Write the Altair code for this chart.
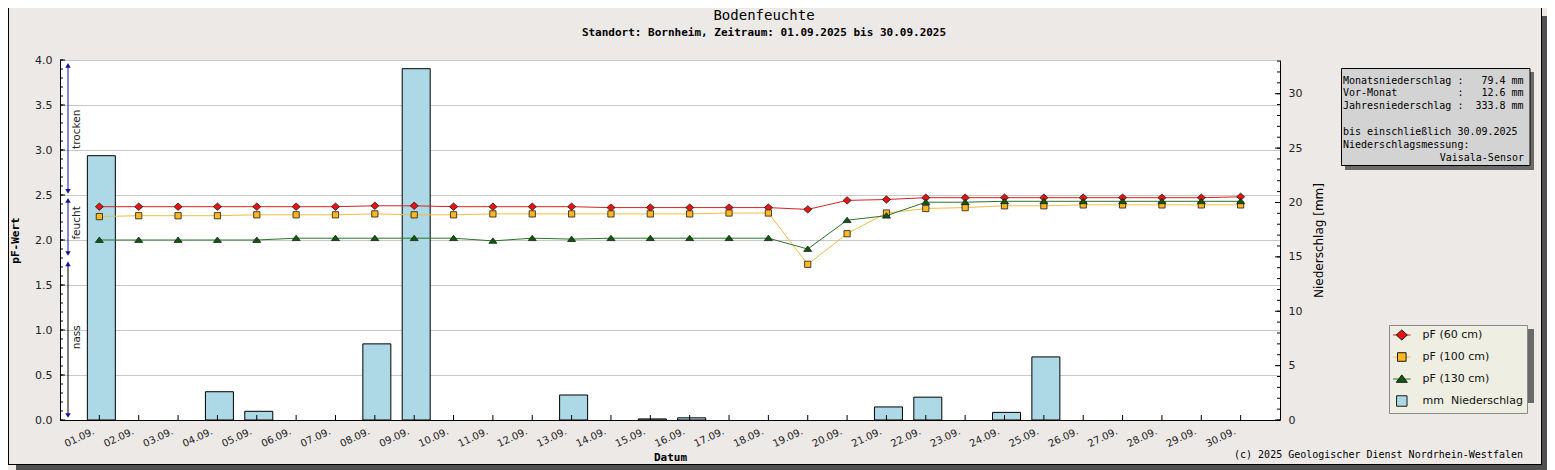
import altair as alt
import pandas as pd

# ---------------- data ----------------
DATES = ["01.09.", "02.09.", "03.09.", "04.09.", "05.09.", "06.09.", "07.09.", "08.09.",
         "09.09.", "10.09.", "11.09.", "12.09.", "13.09.", "14.09.", "15.09.", "16.09.",
         "17.09.", "18.09.", "19.09.", "20.09.", "21.09.", "22.09.", "23.09.", "24.09.",
         "25.09.", "26.09.", "27.09.", "28.09.", "29.09.", "30.09."]

PF_60 = [2.37, 2.37, 2.37, 2.37, 2.37, 2.37, 2.37, 2.38, 2.38, 2.37,
         2.37, 2.37, 2.37, 2.36, 2.36, 2.36, 2.36, 2.36, 2.34, 2.44,
         2.45, 2.47, 2.47, 2.47, 2.47, 2.47, 2.47, 2.47, 2.47, 2.48]
PF_100 = [2.26, 2.27, 2.27, 2.27, 2.28, 2.28, 2.28, 2.29, 2.28, 2.28,
          2.29, 2.29, 2.29, 2.29, 2.29, 2.29, 2.30, 2.30, 1.73, 2.07,
          2.30, 2.35, 2.36, 2.38, 2.38, 2.39, 2.39, 2.39, 2.39, 2.39]
PF_130 = [2.00, 2.00, 2.00, 2.00, 2.00, 2.02, 2.02, 2.02, 2.02, 2.02,
          1.99, 2.02, 2.01, 2.02, 2.02, 2.02, 2.02, 2.02, 1.90, 2.22,
          2.27, 2.42, 2.42, 2.43, 2.43, 2.43, 2.43, 2.43, 2.43, 2.43]
RAIN_MM = [24.3, 0, 0, 2.6, 0.8, 0, 0, 7.0, 32.3, 0,
           0, 0, 2.3, 0, 0.1, 0.2, 0, 0, 0, 0,
           1.2, 2.1, 0, 0.7, 5.8, 0, 0, 0, 0, 0]

SERIES = ["pF (60 cm)", "pF (100 cm)", "pF (130 cm)", "mm\u00a0 Niederschlag"]

ZONES = ["trocken", "feucht", "nass"]
ZONE_LOW = [2.54, 1.85, 0.05]
ZONE_HIGH = [3.94, 2.44, 1.735]
ZONE_MID = [3.23, 2.19, 0.92]

PF_MAJOR = [0.0, 0.5, 1.0, 1.5, 2.0, 2.5, 3.0, 3.5, 4.0]
PF_MINOR = [round(i / 10, 1) for i in range(41)]
MM_MAJOR = [0, 5, 10, 15, 20, 25, 30]
MM_MINOR = list(range(34))

TITLE = "Bodenfeuchte"
SUBTITLE = "Standort: Bornheim, Zeitraum: 01.09.2025 bis 30.09.2025"
COPYRIGHT = "(c) 2025 Geologischer Dienst Nordrhein-Westfalen"
INFO_TOTALS = [
    "Monatsniederschlag :   79.4 mm",
    "Vor-Monat          :   12.6 mm",
    "Jahresniederschlag :  333.8 mm",
]
INFO_NOTE = [
    "bis einschließlich 30.09.2025",
    "Niederschlagsmessung:",
]
INFO_SENSOR = "Vaisala-Sensor"


def nb(s):
    return s.replace(" ", "\u00a0")


# ---------------- tables ----------------
rows = []
for name, vals in zip(SERIES[:3], [PF_60, PF_100, PF_130]):
    for d, v in zip(DATES, vals):
        rows.append({"date": d, "series": name, "pf": v})
pf_df = pd.DataFrame(rows)
mm_df = pd.DataFrame({"date": DATES, "mm": RAIN_MM, "series": SERIES[3]})
zone_df = pd.DataFrame({"name": ZONES, "lo": ZONE_LOW, "hi": ZONE_HIGH, "mid": ZONE_MID})
one = pd.DataFrame({"k": [0]})

# ---------------- styles ----------------
MONO = "DejaVu Sans Mono"
SANS = "DejaVu Sans"
EXT = "M-1.6,-1M1.6,1"
DIAMOND = EXT + "M0,-0.92L1,0L0,0.92L-1,0Z"
SQUARE = EXT + "M-0.78,-0.78L0.78,-0.78L0.78,0.78L-0.78,0.78Z"
SQUARE_BIG = EXT + "M-0.95,-0.95L0.95,-0.95L0.95,0.95L-0.95,0.95Z"
TRIANGLE = EXT + "M0,-0.75L1,0.6L-1,0.6Z"
LINE = "M-1.6,0L1.6,0" + EXT

FILL_SCALE = alt.Scale(domain=SERIES, range=["#EE1111", "#FFB81F", "#0A5C0A", "#ADD8E6"])
SHAPE_SCALE = alt.Scale(domain=SERIES, range=[DIAMOND, SQUARE, TRIANGLE, SQUARE_BIG])
STROKE_SCALE = alt.Scale(domain=[s + "\u200b" for s in SERIES],
                         range=["#D62222", "#F3BC44", "#2A742A", "transparent"])

LEG_COMMON = dict(title=None, orient="none", legendX=1329, legendY=265, direction="vertical",
                  padding=4, symbolSize=121, symbolStrokeWidth=1, symbolOffset=2.8,
                  labelOffset=14.8, rowPadding=6, labelFont=SANS, labelFontSize=11,
                  labelLimit=300)
LEGEND_A = alt.Legend(fillColor="#EEEEE2", strokeColor="#8A8A8A", symbolType=LINE,
                      symbolFillColor="transparent", labelOpacity=0, zindex=0, **LEG_COMMON)
LEGEND_B = alt.Legend(symbolStrokeColor="#1A1A1A", labelColor="#111111", zindex=1, **LEG_COMMON)

X_AXIS = alt.Axis(title="Datum", labelAngle=335, labelAlign="right", labelBaseline="top",
                  labelPadding=6, labelOffset=-8, ticks=False, grid=False, domainColor="black",
                  labelFont=SANS, labelFontSize=10, labelColor="#222222",
                  titleFont=MONO, titleFontSize=11, titleFontWeight="bold", titleColor="black",
                  titleY=37, titleX=610, titleBaseline="middle", titleAlign="center")
X = alt.X("date:O", scale=alt.Scale(type="point", domain=DATES, padding=1), axis=X_AXIS)

PF_SCALE = alt.Scale(domain=[0, 4], nice=False, zero=True)
PF_AXIS = alt.Axis(orient="left", title="pF-Wert", values=PF_MAJOR, format=".1f", grid=True,
                   gridColor="#C8C8C8", ticks=False, domainColor="black",
                   labelFont=SANS, labelFontSize=11, labelColor="#222222", labelPadding=8,
                   titleFont=MONO, titleFontSize=11, titleFontWeight="bold", titleColor="black",
                   titleAngle=270, titleX=-45, titleY=180, titleAlign="center",
                   titleBaseline="middle")
MM_SCALE = alt.Scale(domain=[0, 33.1], nice=False, zero=True)
MM_AXIS = alt.Axis(orient="right", title="Niederschlag [mm]", values=MM_MAJOR, format="d",
                   grid=False, ticks=False, domainColor="black",
                   labelFont=SANS, labelFontSize=11, labelColor="#222222", labelPadding=8,
                   titleFont=SANS, titleFontSize=12, titleFontWeight="normal", titleColor="black",
                   titleAngle=270, titleX=38, titleY=180, titleAlign="center",
                   titleBaseline="middle")


def y_pf(field):
    return alt.Y(field, scale=PF_SCALE, axis=None)


def y_mm(field):
    return alt.Y(field, scale=MM_SCALE, axis=None)


# ---------------- frame decorations ----------------
frame_r = alt.Chart(one).mark_rule(color="black").encode(
    x=alt.value(1481.5), y=alt.value(-52), y2=alt.value(405))
frame_b = alt.Chart(one).mark_rule(color="black").encode(
    x=alt.value(-52), x2=alt.value(1482), y=alt.value(404.5))
frame_l = alt.Chart(one).mark_rule(color="black").encode(
    x=alt.value(-51.5), y=alt.value(-52), y2=alt.value(405))
shadow_r = alt.Chart(one).mark_rect(fill="#505050").encode(
    x=alt.value(1482), x2=alt.value(1487), y=alt.value(-44), y2=alt.value(410))
shadow_b = alt.Chart(one).mark_rect(fill="#505050").encode(
    x=alt.value(-44), x2=alt.value(1487), y=alt.value(405), y2=alt.value(410))

# ---------------- precipitation ----------------
bars = alt.Chart(mm_df).transform_filter("datum.mm > 0").mark_bar(
    size=28, xOffset=2, stroke="black", strokeWidth=1).encode(
    x=X,
    y=alt.Y("mm:Q", scale=MM_SCALE, axis=MM_AXIS),
    fill=alt.Fill("series:N", scale=FILL_SCALE, legend=LEGEND_B),
)
mm_minor = alt.Chart(pd.DataFrame({"v": MM_MINOR})).mark_rule(color="black").encode(
    y=y_mm("v:Q"), x=alt.value(1220), x2=alt.value(1217))
mm_major = alt.Chart(pd.DataFrame({"v": MM_MAJOR})).mark_rule(color="black").encode(
    y=y_mm("v:Q"), x=alt.value(1220), x2=alt.value(1215))

# ---------------- pF ----------------
lines = alt.Chart(pf_df).transform_calculate(sl="datum.series + '\u200b'").mark_line(
    strokeWidth=1).encode(
    x=X,
    y=alt.Y("pf:Q", scale=PF_SCALE, axis=PF_AXIS),
    stroke=alt.Stroke("sl:N", scale=STROKE_SCALE, legend=LEGEND_A),
)
points = alt.Chart(pf_df).mark_point(filled=True, size=64, opacity=1, stroke="#1A1A1A",
                                     strokeWidth=0.8).encode(
    x=X,
    y=y_pf("pf:Q"),
    fill=alt.Fill("series:N", scale=FILL_SCALE, legend=LEGEND_B),
    shape=alt.Shape("series:N", scale=SHAPE_SCALE, legend=LEGEND_B),
)
pf_minor = alt.Chart(pd.DataFrame({"v": PF_MINOR})).mark_rule(color="black").encode(
    y=y_pf("v:Q"), x=alt.value(0), x2=alt.value(3))
pf_major = alt.Chart(pd.DataFrame({"v": PF_MAJOR})).mark_rule(color="black").encode(
    y=y_pf("v:Q"), x=alt.value(0), x2=alt.value(5))
x_ticks = alt.Chart(pd.DataFrame({"date": DATES})).mark_rule(color="black").encode(
    x=X, y=alt.value(360), y2=alt.value(355))

ZCOLOR = alt.Scale(domain=ZONES, range=["#1414A0", "#1414A0", "black"])
zone_rule = alt.Chart(zone_df).mark_rule(strokeWidth=1).encode(
    x=alt.value(8), y=y_pf("lo:Q"), y2="hi:Q",
    color=alt.Color("name:N", scale=ZCOLOR, legend=None))
zone_up = alt.Chart(zone_df).mark_point(shape="triangle-up", filled=True, size=30, opacity=1,
                                        color="#1414A0").encode(
    x=alt.value(8), y=y_pf("hi:Q"))
zone_down = alt.Chart(zone_df).mark_point(shape="triangle-down", filled=True, size=30, opacity=1,
                                          color="#1414A0").encode(
    x=alt.value(8), y=y_pf("lo:Q"))
zone_text = alt.Chart(zone_df).mark_text(angle=270, font=SANS, fontSize=10.5, color="#222222",
                                         align="center", baseline="middle").encode(
    x=alt.value(16.5), y=y_pf("mid:Q"), text="name:N")

# ---------------- text & boxes ----------------
title = alt.Chart(one).mark_text(text=TITLE, font=MONO, fontSize=14, color="black",
                                 align="center", baseline="middle").encode(
    x=alt.value(704), y=alt.value(-44))
subtitle = alt.Chart(one).mark_text(text=SUBTITLE, font=MONO, fontSize=11, fontWeight="bold",
                                    color="black", align="center", baseline="middle").encode(
    x=alt.value(704), y=alt.value(-27))
copyright_t = alt.Chart(one).mark_text(text=COPYRIGHT, font=MONO, fontSize=10, color="black",
                                       align="right", baseline="middle").encode(
    x=alt.value(1463), y=alt.value(395))
info_shadow = alt.Chart(one).mark_rect(fill="#6A6A6A").encode(
    x=alt.value(1285), x2=alt.value(1474), y=alt.value(12), y2=alt.value(110))
info_box = alt.Chart(one).mark_rect(fill="#D3D3D3", stroke="black", strokeWidth=1).encode(
    x=alt.value(1281.5), x2=alt.value(1470), y=alt.value(8.5), y2=alt.value(105.5))
info_text1 = alt.Chart(one).mark_text(text=[nb(s) for s in INFO_TOTALS], font=MONO, fontSize=10,
                                      color="black", align="left", baseline="alphabetic",
                                      lineHeight=12.7).encode(
    x=alt.value(1283), y=alt.value(23.5))
info_text2 = alt.Chart(one).mark_text(text=[nb(s) for s in INFO_NOTE], font=MONO, fontSize=10,
                                      color="black", align="left", baseline="alphabetic",
                                      lineHeight=13).encode(
    x=alt.value(1283), y=alt.value(74.5))
info_text3 = alt.Chart(one).mark_text(text=INFO_SENSOR, font=MONO, fontSize=10,
                                      color="black", align="right",
                                      baseline="alphabetic").encode(
    x=alt.value(1464), y=alt.value(100.5))
leg_shadow = alt.Chart(one).mark_rect(fill="#6A6A6A").encode(
    x=alt.value(1333.5), x2=alt.value(1474), y=alt.value(269), y2=alt.value(343))

chart = alt.layer(
    bars, lines, points,
    mm_minor, mm_major, pf_minor, pf_major, x_ticks,
    zone_rule, zone_up, zone_down, zone_text,
    frame_l, frame_r, frame_b, shadow_r, shadow_b,
    info_shadow, info_box, info_text1, info_text2, info_text3, leg_shadow,
    title, subtitle, copyright_t,
).resolve_scale(y="independent").properties(
    width=1220, height=360,
    padding={"left": 52, "top": 52, "right": 267, "bottom": 50},
    autosize=alt.AutoSizeParams(type="none"),
    background="#ECE9E7",
).configure_view(stroke="transparent", fill="white")

chart.save("out.html", embed_options={"renderer": "svg", "actions": False})
